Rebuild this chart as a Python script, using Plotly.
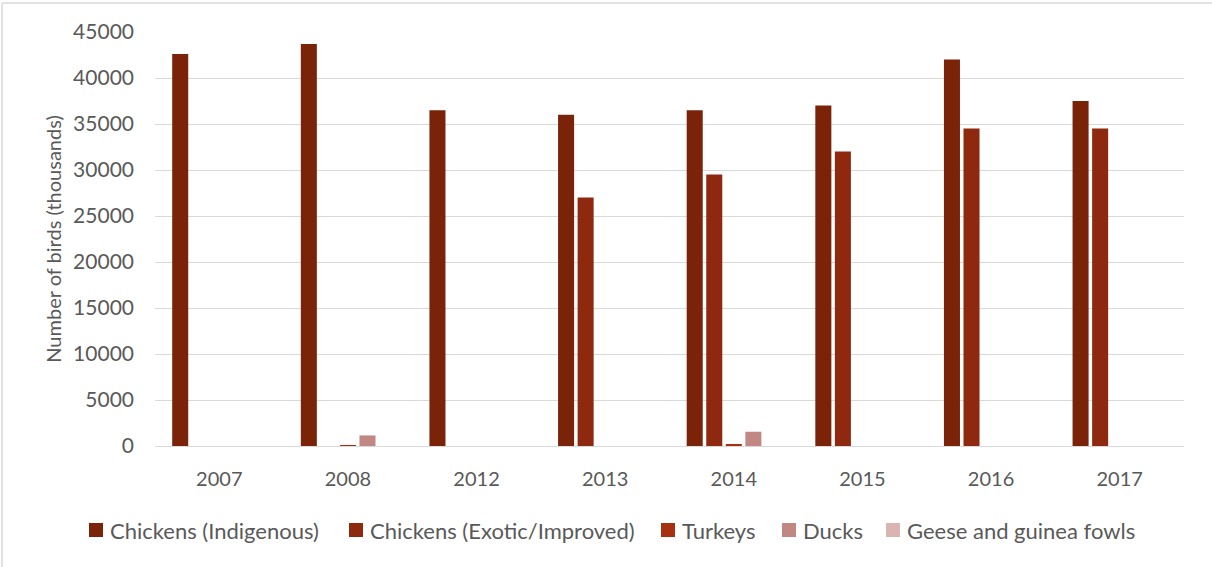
import plotly.graph_objects as go

years = ["2007", "2008", "2012", "2013", "2014", "2015", "2016", "2017"]

chickens_indigenous = [42600, 43700, 36500, 36000, 36500, 37000, 42000, 37500]
chickens_exotic = [None, None, None, 27000, 29500, 32000, 34500, 34500]
turkeys = [None, 80, None, None, 200, None, None, None]
ducks = [None, 1150, None, None, 1550, None, None, None]
geese_guinea = [None, None, None, None, None, None, None, None]

series_names = ["Chickens (Indigenous)", "Chickens (Exotic/Improved)", "Turkeys",
                "Ducks", "Geese and guinea fowls"]
series_values = [chickens_indigenous, chickens_exotic, turkeys, ducks, geese_guinea]
series_colors = ["#7B2309", "#8E2910", "#A53111", "#C08783", "#D9B4B1"]

y_ticks = list(range(0, 45001, 5000))

font_family = "Lato, Open Sans, Noto Sans, sans-serif"
text_color = "#595959"

W, H = 1212, 567
m_l, m_r, m_t, m_b = 155, 28, 32, 121
pw, ph = W - m_l - m_r, H - m_t - m_b


def px_x(px):
    return (px - m_l) / pw


def px_y(py):
    return (m_t + ph - py) / ph


fig = go.Figure()
for name, values, color in zip(series_names, series_values, series_colors):
    fig.add_trace(go.Bar(
        name=name,
        x=years,
        y=values,
        marker=dict(color=color, line=dict(width=0)),
        showlegend=False,
    ))

fig.update_layout(
    width=W,
    height=H,
    margin=dict(l=m_l, r=m_r, t=m_t, b=m_b, pad=0, autoexpand=False),
    barmode="group",
    bargap=0.24,
    bargroupgap=0.18,
    plot_bgcolor="white",
    paper_bgcolor="white",
    font=dict(family=font_family, size=20, color=text_color),
    showlegend=False,
    xaxis=dict(
        type="category",
        showgrid=False,
        showline=True,
        linecolor="#D9D9D9",
        linewidth=1,
        ticks="",
        ticklabelstandoff=15,
        tickfont=dict(size=20, color=text_color),
    ),
    yaxis=dict(
        range=[0, 45000],
        tickvals=y_ticks,
        ticktext=[str(v) for v in y_ticks],
        showgrid=True,
        gridcolor="#D9D9D9",
        gridwidth=1,
        zeroline=False,
        showline=False,
        ticks="",
        ticklabelstandoff=20,
        tickfont=dict(size=21, color=text_color),
        title=dict(
            text="Number of birds (thousands)",
            font=dict(size=20, color=text_color),
            standoff=6,
        ),
    ),
)

# legend row below the axis: colour swatch + label per series
legend_swatch_left = [89, 349, 661, 782, 886]
legend_row_y = 530
swatch = 14
for left, name, color in zip(legend_swatch_left, series_names, series_colors):
    fig.add_shape(
        type="rect", xref="paper", yref="paper",
        x0=px_x(left), x1=px_x(left + swatch),
        y0=px_y(legend_row_y + swatch / 2), y1=px_y(legend_row_y - swatch / 2),
        fillcolor=color, line=dict(width=0),
    )
    fig.add_annotation(
        xref="paper", yref="paper",
        x=px_x(left + swatch + 5), y=px_y(legend_row_y),
        xanchor="left", yanchor="middle",
        text=name, showarrow=False,
        font=dict(size=22, color=text_color, family=font_family),
    )

# chart frame: left and top edges
fig.add_shape(
    type="line", xref="paper", yref="paper",
    x0=px_x(2), x1=px_x(2),
    y0=px_y(3), y1=px_y(H),
    line=dict(color="#D9D9D9", width=1.5),
)
fig.add_shape(
    type="line", xref="paper", yref="paper",
    x0=px_x(2), x1=px_x(W),
    y0=px_y(3), y1=px_y(3),
    line=dict(color="#D9D9D9", width=1.5),
)

fig.write_html("out.html")
